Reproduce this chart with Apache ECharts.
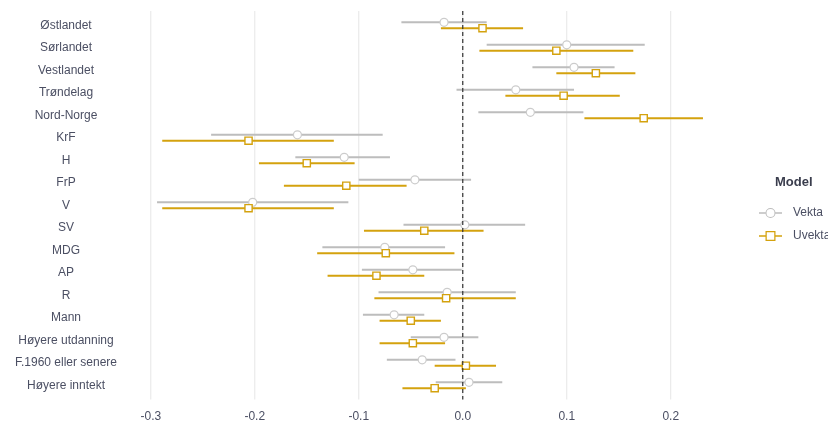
<!DOCTYPE html>
<html><head><meta charset="utf-8">
<script src="https://cdn.jsdelivr.net/npm/echarts@6/dist/echarts.min.js"></script>
<style>html,body{margin:0;padding:0;background:#fff}#c{width:828px;height:423px}</style>
</head><body><div id="c"></div>
<script>
const categories = ['Østlandet','Sørlandet','Vestlandet','Trøndelag','Nord-Norge','KrF','H','FrP','V','SV','MDG','AP','R','Mann','Høyere utdanning','F.1960 eller senere','Høyere inntekt'];
const vektaEst  = [-0.018, 0.100, 0.107, 0.051, 0.065, -0.159, -0.114, -0.046, -0.202, 0.002, -0.075, -0.048, -0.015, -0.066, -0.018, -0.039, 0.006];
const vektaLow  = [-0.059, 0.023, 0.067, -0.006, 0.015, -0.242, -0.161, -0.100, -0.294, -0.057, -0.135, -0.097, -0.081, -0.096, -0.050, -0.073, -0.026];
const vektaHigh = [0.023, 0.175, 0.146, 0.107, 0.116, -0.077, -0.070, 0.008, -0.110, 0.060, -0.017, -0.001, 0.051, -0.037, 0.015, -0.007, 0.038];
const uvektaEst  = [0.019, 0.090, 0.128, 0.097, 0.174, -0.206, -0.150, -0.112, -0.206, -0.037, -0.074, -0.083, -0.016, -0.050, -0.048, 0.003, -0.027];
const uvektaLow  = [-0.021, 0.016, 0.090, 0.041, 0.117, -0.289, -0.196, -0.172, -0.289, -0.095, -0.140, -0.130, -0.085, -0.080, -0.080, -0.027, -0.058];
const uvektaHigh = [0.058, 0.164, 0.166, 0.151, 0.231, -0.124, -0.104, -0.054, -0.124, 0.020, -0.008, -0.037, 0.051, -0.021, -0.017, 0.032, 0.003];
const xTicks = [-0.3, -0.2, -0.1, 0.0, 0.1, 0.2];
const refLine = [0];

const GREY = '#bdbdbd', GOLD = '#d4a20e', TXT = '#4b4f63';

function errRender(dir, color, marker) {
  return function (params, api) {
    const p = api.coord([api.value(0), api.value(1)]);
    const band = api.size([0, 1])[1];
    const y = p[1] + dir * band * 0.13;
    const xl = api.coord([api.value(2), api.value(1)])[0];
    const xh = api.coord([api.value(3), api.value(1)])[0];
    const mk = marker === 'circle'
      ? { type: 'circle', shape: { cx: p[0], cy: y, r: 4 }, style: { fill: '#fff', stroke: '#cccccc', lineWidth: 1.2 } }
      : { type: 'rect', shape: { x: p[0] - 3.6, y: y - 3.6, width: 7.2, height: 7.2 }, style: { fill: '#fff', stroke: GOLD, lineWidth: 1.4 } };
    return { type: 'group', children: [
      { type: 'line', shape: { x1: xl, y1: y, x2: xh, y2: y }, style: { stroke: color, lineWidth: 2 } },
      mk
    ] };
  };
}

const circIcon = 'path://M0,8.5 L13.2,8.5 L13.2,11.5 L0,11.5 Z M32.8,8.5 L46,8.5 L46,11.5 L32.8,11.5 Z M33,10 A10,10 0 1,0 13,10 A10,10 0 1,0 33,10 Z M31,10 A8,8 0 1,1 15,10 A8,8 0 1,1 31,10 Z';
const sqIcon = 'path://M0,8.5 L13,8.5 L13,11.5 L0,11.5 Z M33,8.5 L46,8.5 L46,11.5 L33,11.5 Z M13,0 L33,0 L33,20 L13,20 Z M15.5,2.5 L15.5,17.5 L30.5,17.5 L30.5,2.5 Z';

const chart = echarts.init(document.getElementById('c'), null, { renderer: 'canvas' });
chart.setOption({
  backgroundColor: '#fff',
  animation: false,
  textStyle: { fontFamily: 'Liberation Sans, Arial, sans-serif' },
  grid: { left: 130, width: 600, top: 14, height: 384, containLabel: false },
  title: { text: 'Model', left: 775, top: 175.5, padding: 0,
    textStyle: { fontSize: 13, fontWeight: 'bold', color: '#3a3d4d', fontFamily: 'Liberation Sans, Arial, sans-serif' } },
  legend: {
    orient: 'vertical', left: 754, top: 202, itemWidth: 23, itemHeight: 10, itemGap: 11,
    data: [{ name: 'Vekta', icon: circIcon }, { name: 'Uvekta', icon: sqIcon }],
    textStyle: { color: TXT, fontSize: 12, padding: [0, 0, 0, 6] }
  },
  xAxis: {
    type: 'value', min: -0.32, max: 0.257,
    axisLine: { show: false }, axisTick: { show: false }, splitLine: { show: false },
    axisLabel: { color: TXT, fontSize: 12, margin: 14.5, showMinLabel: false, showMaxLabel: false,
      formatter: v => v.toFixed(1) }
  },
  yAxis: {
    type: 'category', data: categories, inverse: true,
    axisLine: { show: false }, axisTick: { show: false }, splitLine: { show: false },
    axisLabel: { color: TXT, fontSize: 12, align: 'center', margin: 64, padding: [3, 0, 0, 0] }
  },
  series: [
    { type: 'custom', name: 'grid', silent: true, z: 1,
      data: xTicks.map(t => [t, 0]), encode: { x: 0, y: 1 },
      renderItem: (params, api) => {
        const x = api.coord([api.value(0), 0])[0];
        const cs = params.coordSys;
        return { type: 'line', shape: { x1: x, y1: cs.y - 3, x2: x, y2: cs.y + cs.height + 3 }, style: { stroke: '#e6e6e6', lineWidth: 1 } };
      } },
    { type: 'custom', name: 'Vekta', z: 3, itemStyle: { color: GREY },
      data: categories.map((c, i) => [vektaEst[i], i, vektaLow[i], vektaHigh[i]]), encode: { x: 0, y: 1 },
      renderItem: errRender(-1, GREY, 'circle') },
    { type: 'custom', name: 'Uvekta', z: 3, itemStyle: { color: GOLD },
      data: categories.map((c, i) => [uvektaEst[i], i, uvektaLow[i], uvektaHigh[i]]), encode: { x: 0, y: 1 },
      renderItem: errRender(1, GOLD, 'square') },
    { type: 'custom', name: 'ref', silent: true, z: 5,
      data: refLine.map(t => [t, 0]), encode: { x: 0, y: 1 },
      renderItem: (params, api) => {
        const x = api.coord([api.value(0), 0])[0];
        const cs = params.coordSys;
        return { type: 'line', shape: { x1: x, y1: cs.y - 3, x2: x, y2: cs.y + cs.height + 3 }, style: { stroke: '#333', lineWidth: 1.2, lineDash: [4, 3] } };
      } }
  ]
});
</script></body></html>
